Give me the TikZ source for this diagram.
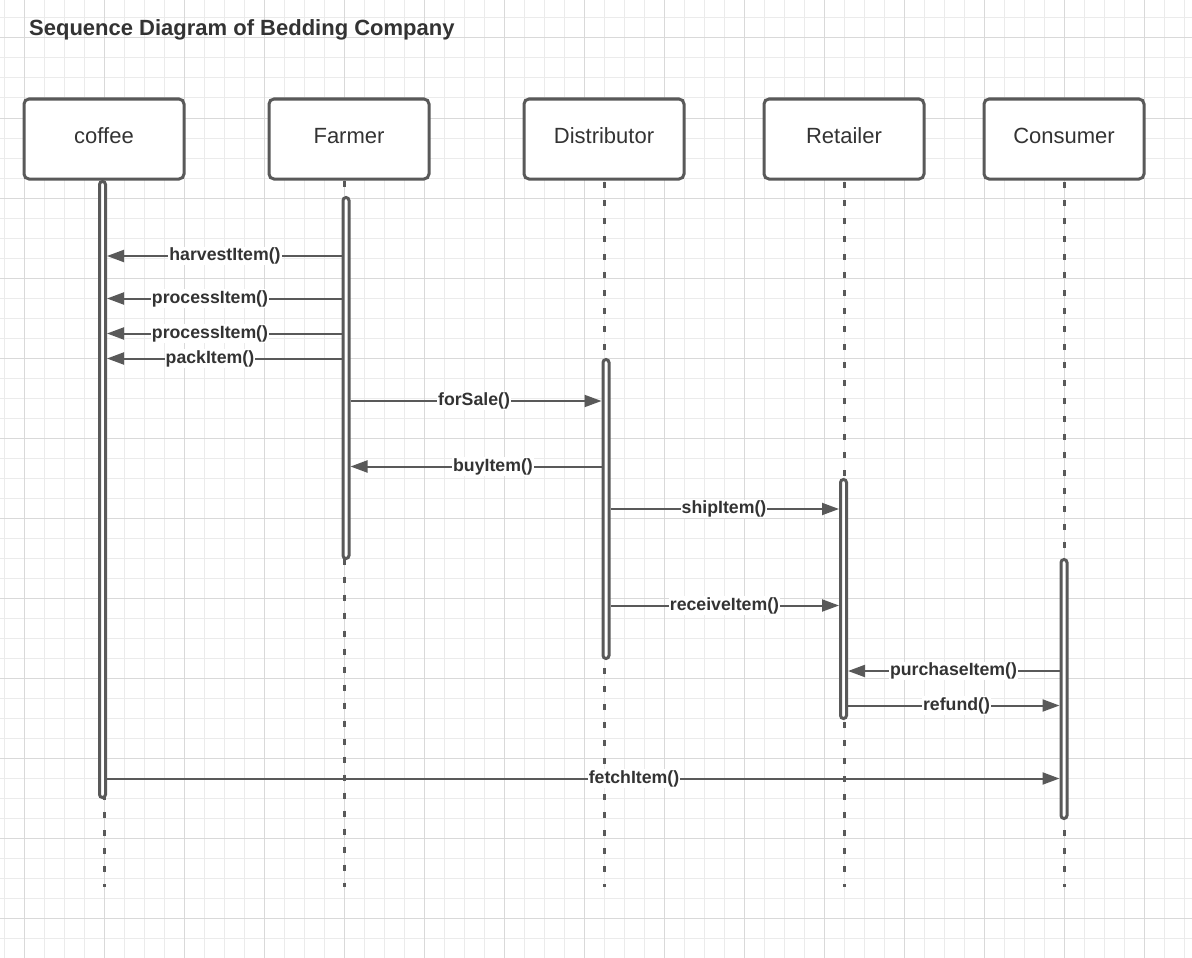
\documentclass[tikz,border=0pt]{standalone}
\usepackage{fontspec}
\setmainfont{Liberation Sans}
\usetikzlibrary{arrows.meta}
\definecolor{ln}{HTML}{595959}
\definecolor{tx}{HTML}{333333}
\definecolor{gminor}{HTML}{EBEBEB}
\definecolor{gmajor}{HTML}{D9D9D9}
\begin{document}
\begin{tikzpicture}[x=1pt,y=-1pt,
 actor/.style={draw=ln, line width=3pt, rounded corners=5pt, fill=white, minimum width=160pt, minimum height=80pt, text=tx, font=\fontsize{22}{26}\selectfont, text height=16pt, text depth=8pt, inner sep=0pt},
 bar/.style={draw=ln, line width=3pt, rounded corners=3pt, fill=white, minimum width=6pt, inner sep=0pt},
 life/.style={draw=ln, line width=3pt, dash pattern=on 6pt off 12pt},
 msg/.style={draw=ln, line width=2pt, -{Triangle[length=17pt,width=12pt]}},
 lab/.style={fill=white, text=tx, font=\bfseries\fontsize{17.7}{20}\selectfont, inner sep=1pt}
]
% background and grid
\fill[white] (0,0) rectangle (1192,958);
\useasboundingbox (0,0) rectangle (1192,958);
\foreach \x in {4,24,...,1190} \draw[gminor, line width=1pt] (\x,0) -- (\x,958);
\foreach \y in {18,38,...,958} \draw[gminor, line width=1pt] (0,\y) -- (1192,\y);
\foreach \x in {24,104,...,1190} \draw[gmajor, line width=1pt] (\x,0) -- (\x,958);
\foreach \y in {38,118,...,958} \draw[gmajor, line width=1pt] (0,\y) -- (1192,\y);

% title
\node[anchor=base west, font=\bfseries\fontsize{22}{26}\selectfont, text=tx, inner sep=0pt] (title) at (29,36) {Sequence Diagram of Bedding Company};

% actors
\node[actor] (coffee) at (104,139) {coffee};
\node[actor] (farmer) at (349,139) {Farmer};
\node[actor] (dist) at (604,139) {Distributor};
\node[actor] (ret) at (844,139) {Retailer};
\node[actor] (cons) at (1064,139) {Consumer};

% lifeline ends
\coordinate (ce) at (104,887);
\coordinate (fs) at (344,180.5);
\coordinate (fe) at (344,887);
\coordinate (de) at (604,887);
\coordinate (re) at (844,887);
\coordinate (ke) at (1064,887);
\draw[life] (coffee.south) ++(0,1.5) -- (ce);
\draw[life] (fs) -- (fe);
\draw[life] (dist.south) ++(0,1.5) -- (de);
\draw[life] (ret.south) ++(0,1.5) -- (re);
\draw[life] (cons.south) ++(0,1.5) -- (ke);

% activation bars
\node[bar, minimum height=616pt] (cbar) at (102.5,489.5) {};
\node[bar, minimum height=361pt] (fbar) at (346,378) {};
\node[bar, minimum height=299pt] (dbar) at (606,509) {};
\node[bar, minimum height=239pt] (rbar) at (843.5,599) {};
\node[bar, minimum height=259pt] (kbar) at (1064,689) {};

% messages
\draw[msg] (fbar.west |- 0,256) -- (cbar.east |- 0,256);
\draw[msg] (fbar.west |- 0,298.5) -- (cbar.east |- 0,298.5);
\draw[msg] (fbar.west |- 0,333.5) -- (cbar.east |- 0,333.5);
\draw[msg] (fbar.west |- 0,358.5) -- (cbar.east |- 0,358.5);
\draw[msg] (fbar.east |- 0,401) -- (dbar.west |- 0,401);
\draw[msg] (dbar.west |- 0,466.5) -- (fbar.east |- 0,466.5);
\draw[msg] (dbar.east |- 0,509) -- (rbar.west |- 0,509);
\draw[msg] (dbar.east |- 0,605.5) -- (rbar.west |- 0,605.5);
\draw[msg] (kbar.west |- 0,671) -- (rbar.east |- 0,671);
\draw[msg] (rbar.east |- 0,705.5) -- (kbar.west |- 0,705.5);
\draw[msg] (cbar.east |- 0,778.5) -- (kbar.west |- 0,778.5);

% labels
\node[lab] (l1) at (225,256) {harvestItem()};
\node[lab] (l2) at (210,298.5) {processItem()};
\node[lab] (l3) at (210,333.5) {processItem()};
\node[lab] (l4) at (210,358.5) {packItem()};
\node[lab] (l5) at (474,401) {forSale()};
\node[lab] (l6) at (493,466.5) {buyItem()};
\node[lab] (l7) at (724,509) {shipItem()};
\node[lab] (l8) at (724.5,605.5) {receiveItem()};
\node[lab] (l9) at (953.5,671) {purchaseItem()};
\node[lab] (l10) at (956.5,705.5) {refund()};
\node[lab] (l11) at (634,778.5) {fetchItem()};
\end{tikzpicture}
\end{document}
